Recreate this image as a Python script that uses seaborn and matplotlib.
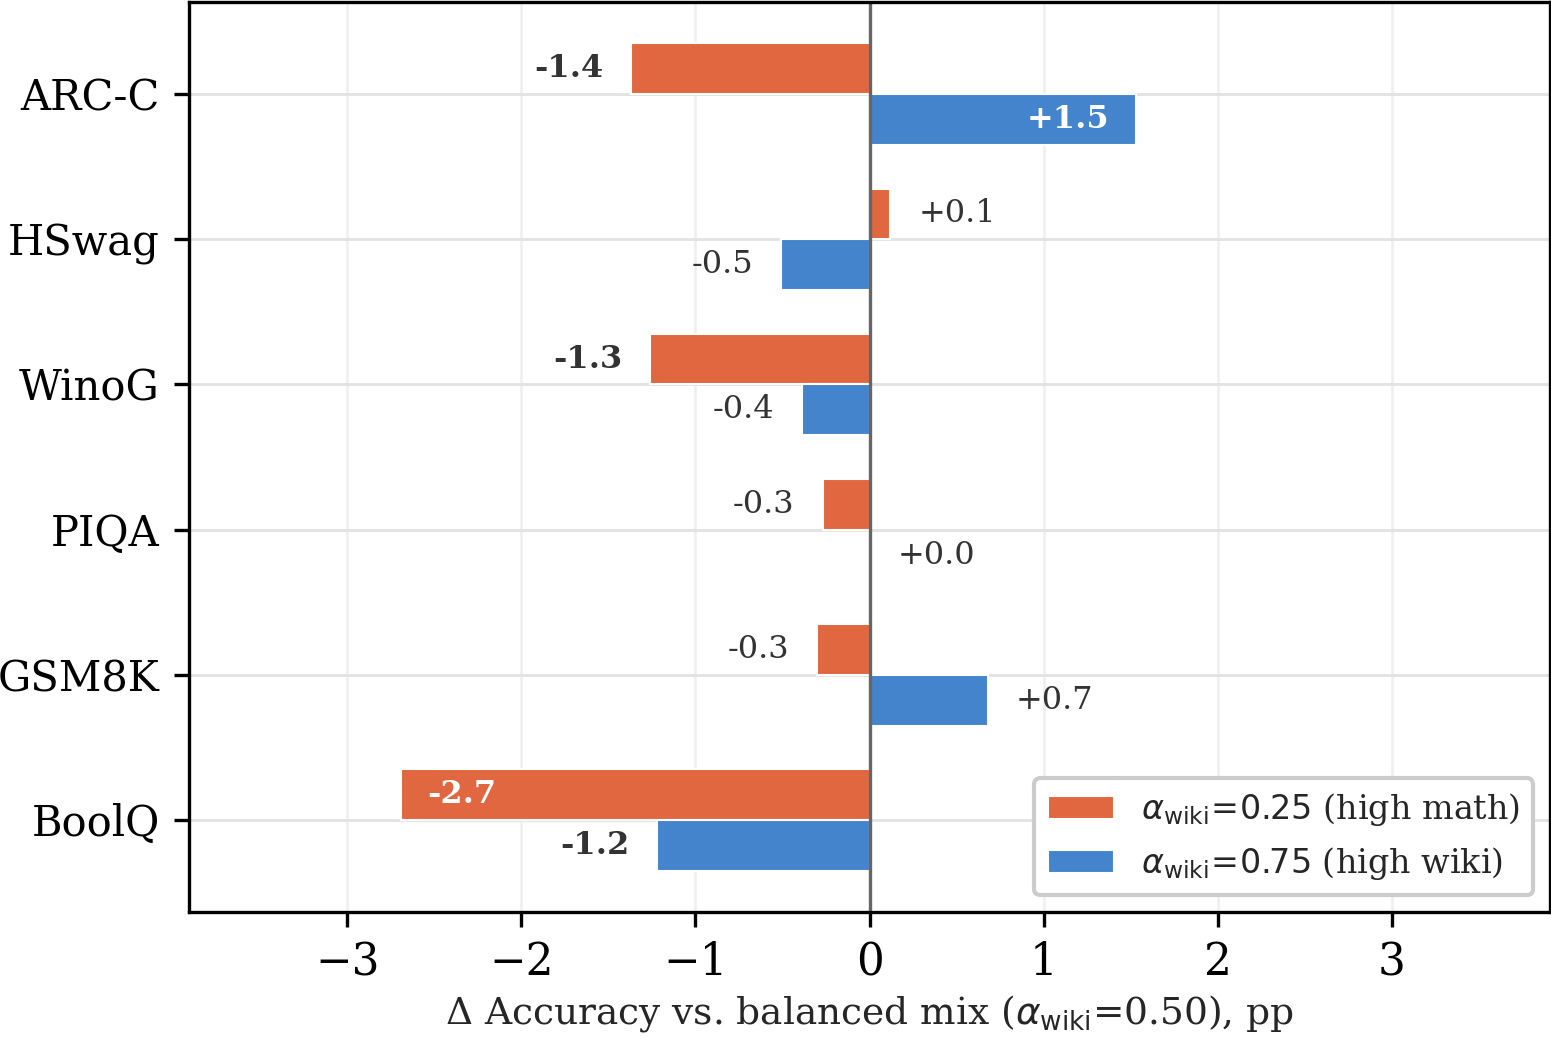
import matplotlib
matplotlib.use("Agg")
import matplotlib.pyplot as plt
import pandas as pd
import seaborn as sns

# Benchmarks (top to bottom) and deltas vs. the balanced mix, in pp
BENCHMARKS = ["ARC-C", "HSwag", "WinoG", "PIQA", "GSM8K", "BoolQ"]
DELTA_MATH = [-1.37, 0.12, -1.26, -0.27, -0.30, -2.69]   # alpha_wiki = 0.25
DELTA_WIKI = [1.53, -0.51, -0.39, 0.00, 0.68, -1.22]     # alpha_wiki = 0.75
SERIES = [r"$\alpha_{\rm wiki}\!=\!0.25$ (high math)", r"$\alpha_{\rm wiki}\!=\!0.75$ (high wiki)"]
COLORS = ["#E0673F", "#4484CC"]
TEXT_DARK = "#333333"

sns.set_theme(style="whitegrid")
plt.rcParams.update({
    "font.family": ["DejaVu Serif"],
    "mathtext.fontset": "dejavusans",
    "axes.edgecolor": "black",
    "axes.linewidth": 0.8,
    "axes.facecolor": "white",
    "grid.color": "#ececec",
    "grid.linewidth": 0.7,
    "xtick.bottom": True,
    "ytick.left": True,
    "xtick.major.size": 3.5,
    "ytick.major.size": 3.5,
    "xtick.major.width": 0.8,
    "ytick.major.width": 0.8,
    "xtick.color": "black",
    "ytick.color": "black",
})

df = pd.DataFrame({
    "benchmark": BENCHMARKS * 2,
    "series": [SERIES[0]] * len(BENCHMARKS) + [SERIES[1]] * len(BENCHMARKS),
    "delta": DELTA_MATH + DELTA_WIKI,
})

fig, ax = plt.subplots(figsize=(1552 / 300, 1037 / 300), dpi=300)
fig.subplots_adjust(left=0.1218, right=0.9987, top=0.998, bottom=0.1205)

sns.barplot(
    data=df, y="benchmark", x="delta", hue="series",
    order=BENCHMARKS, hue_order=SERIES, palette=COLORS,
    orient="h", width=0.7, edgecolor="white", linewidth=0.5,
    saturation=1, ax=ax,
)

ax.axvline(0, color="#666666", lw=0.8, zorder=1.5)
ax.grid(axis="y", color="#e3e3e3", lw=0.7)
ax.grid(axis="x", color="#eeeeee", lw=0.6)

for container in ax.containers:
    for bar in container:
        v = bar.get_width()
        yc = bar.get_y() + bar.get_height() / 2
        label = f"{v:+.1f}"
        big = abs(v) >= 1.0
        inside = abs(v) >= 1.5
        weight = "bold" if big else "normal"
        if inside:
            x = v - 0.15 if v > 0 else v + 0.15
            ha = "right" if v > 0 else "left"
            color = "white"
        else:
            x = v + 0.16 if v >= 0 else v - 0.16
            ha = "left" if v >= 0 else "right"
            color = TEXT_DARK
        ax.text(x, yc, label, ha=ha, va="center", fontsize=7.7,
                fontweight=weight, color=color, zorder=4)

ax.set_xlim(-3.91, 3.91)
ax.set_ylim(5.635, -0.635)
ax.set_xticks([-3, -2, -1, 0, 1, 2, 3])
ax.tick_params(axis="x", labelsize=10.5, pad=3.5)
ax.tick_params(axis="y", labelsize=10, pad=3.5)
ax.set_ylabel("")
ax.set_xlabel(r"Δ Accuracy vs. balanced mix ($\alpha_{\rm wiki}$=0.50), pp",
              fontsize=9, labelpad=2)
for s in ax.spines.values():
    s.set_visible(True)
    s.set_color("black")
    s.set_linewidth(0.8)

ax.legend(loc="lower right", fontsize=8, frameon=True, framealpha=1,
          edgecolor="#cccccc", fancybox=True, title=None)

fig.savefig("out.png", dpi=300)
